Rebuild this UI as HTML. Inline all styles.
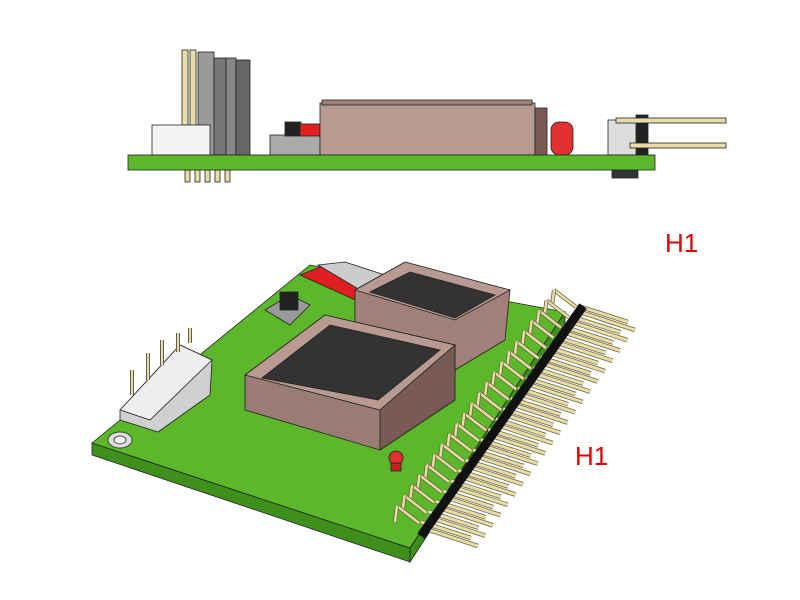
<!DOCTYPE html>
<html><head><style>
html,body{margin:0;padding:0;background:#fff;width:800px;height:600px;overflow:hidden}
svg{display:block}
text{font-family:"Liberation Sans",sans-serif}
</style></head><body>
<svg id="s" width="800" height="600" viewBox="0 0 800 600" xmlns="http://www.w3.org/2000/svg" stroke="#222" stroke-width="0.8">
<g fill="#e8dca8">
<rect x="182" y="50" width="6" height="105"/><rect x="190" y="50" width="6" height="105"/>
</g>
<rect x="198" y="52" width="16" height="103" fill="#9a9a9a"/>
<rect x="214" y="58" width="12" height="97" fill="#777"/>
<rect x="226" y="58" width="10" height="97" fill="#888"/>
<rect x="236" y="60" width="14" height="95" fill="#666"/>
<rect x="152" y="125" width="58" height="30" fill="#f4f4f4"/>
<g fill="#e8dca8"><rect x="185" y="170" width="5" height="12"/><rect x="195" y="170" width="5" height="12"/><rect x="205" y="170" width="5" height="12"/><rect x="215" y="170" width="5" height="12"/><rect x="225" y="170" width="5" height="12"/></g>
<rect x="270" y="135" width="50" height="20" fill="#aaa"/>
<rect x="285" y="122" width="16" height="14" fill="#222"/>
<rect x="300" y="124" width="20" height="12" fill="#e02020"/>
<rect x="320" y="103" width="215" height="52" fill="#b89a90"/>
<rect x="322" y="100" width="210" height="5" fill="#a08078"/>
<rect x="535" y="108" width="12" height="47" fill="#7a5a55"/>
<rect x="551" y="122" width="22" height="33" fill="#e03030" rx="8"/>
<rect x="608" y="120" width="30" height="35" fill="#ddd"/>
<rect x="636" y="115" width="12" height="40" fill="#222"/>
<rect x="616" y="118" width="110" height="5" fill="#e8dca8"/>
<rect x="630" y="143" width="96" height="5" fill="#e8dca8"/>
<rect x="612" y="168" width="26" height="10" fill="#333"/>
<rect x="128" y="155" width="527" height="15" fill="#5cb82a"/>
<text x="665" y="252" font-size="26" fill="#e00000" stroke="none">H1</text>
<text x="575" y="465" font-size="26" fill="#e00000" stroke="none">H1</text>

<polygon points="92,443 410,548 410,562 92,455" fill="#3f8f1d"/>
<polygon points="410,548 565,312 565,324 410,562" fill="#3f8f1d"/>
<polygon points="92,443 310,265 565,312 410,548" fill="#5cb82a"/>
<ellipse cx="120" cy="440" rx="12" ry="8" fill="#ddd"/>
<ellipse cx="120" cy="440" rx="6" ry="4" fill="#fff"/>
<polygon points="300,275 325,265 385,290 360,302" fill="#e02020"/>
<polygon points="318,265 345,262 385,275 360,290" fill="#ccc"/>
<polygon points="265,310 290,295 310,305 290,325" fill="#999"/>
<rect x="280" y="292" width="18" height="18" fill="#222"/>
<polygon points="355,290 405,262 510,290 505,340 455,370 355,335" fill="#a08078"/>
<polygon points="355,290 405,262 510,290 455,320" fill="#b89a90"/>
<polygon points="370,292 410,272 495,295 455,318" fill="#333"/>
<polygon points="245,375 325,315 455,345 455,400 380,450 245,410" fill="#9a7c74"/>
<polygon points="245,375 325,315 455,345 380,410" fill="#b89a90"/>
<polygon points="262,378 330,325 440,350 378,400" fill="#333"/>
<polygon points="380,410 455,345 455,400 380,450" fill="#7a5a55"/>
<circle cx="396" cy="458" r="7" fill="#e03030"/>
<rect x="391" y="463" width="10" height="8" fill="#c02020"/>
<polygon points="120,410 180,345 212,360 210,395 158,432 120,420" fill="#d0d0d0"/>
<polygon points="120,410 180,345 212,360 150,420" fill="#eee"/>
<g stroke="#333" stroke-width="4"><line x1="132" y1="395" x2="132" y2="370"/><line x1="148" y1="380" x2="148" y2="353"/><line x1="162" y1="365" x2="162" y2="340"/><line x1="178" y1="352" x2="178" y2="333"/><line x1="190" y1="343" x2="190" y2="328"/></g>
<g stroke="#e8dca8" stroke-width="2.5"><line x1="132" y1="395" x2="132" y2="370"/><line x1="148" y1="380" x2="148" y2="353"/><line x1="162" y1="365" x2="162" y2="340"/><line x1="178" y1="352" x2="178" y2="333"/><line x1="190" y1="343" x2="190" y2="328"/></g>
<g id="hdr"></g>
</svg>
<script>
(function(){
var g=document.getElementById('hdr'),ns='http://www.w3.org/2000/svg',h='';
var n=22,x0=423,y0=528,x1=580,y1=312;
function ln(a,b,c,d,col,w){h+='<line x1="'+a+'" y1="'+b+'" x2="'+c+'" y2="'+d+'" stroke="'+col+'" stroke-width="'+w+'"/>';}
for(var i=n-1;i>=0;i--){
 var x=x0+(x1-x0)*i/(n-1),y=y0+(y1-y0)*i/(n-1);
 // back row left short pins
 ln(x-4,y-5,x-26,y-22,'#6b6340',4);ln(x-4,y-5,x-26,y-22,'#e8dca8',2.5);
 ln(x-26,y-22,x-28,y-6,'#6b6340',4);ln(x-26,y-22,x-28,y-6,'#e8dca8',2.5);
 // back long
 ln(x-2,y-6,x+48,y+10,'#6b6340',4.5);ln(x-2,y-6,x+48,y+10,'#e8dca8',3);
 // front long
 ln(x,y,x+55,y+18,'#6b6340',4.5);ln(x,y,x+55,y+18,'#e8dca8',3);
}
ln(x0-2,y0+8,x1+3,y1-6,'#111',9);
g.innerHTML=h;
})();
</script>
</body></html>
